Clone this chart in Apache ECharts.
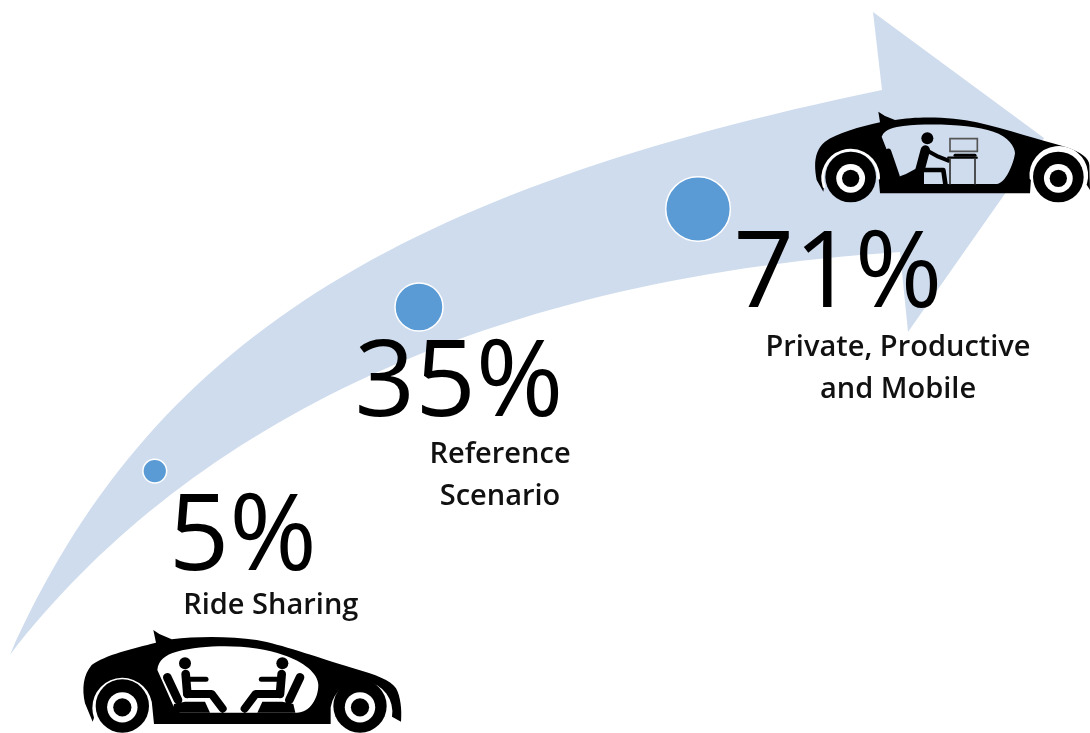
<!DOCTYPE html>
<html>
<head>
<meta charset="utf-8">
<style>html,body{margin:0;padding:0;background:#fff}#chart{width:1090px;height:733px}</style>
<script src="https://cdn.jsdelivr.net/npm/echarts@6/dist/echarts.min.js"></script>
</head>
<body>
<div id="chart"></div>
<script>
// Share of the scenario for each stage of vehicle use
const scenarios = ['Ride Sharing', 'Reference\nScenario', 'Private, Productive\nand Mobile'];
const shares = [5, 35, 71];
// Where each stage sits along the rising arrow, as a percentage of the plot
const stageAlong = [14.2, 38.44, 64.04];
const stageHeight = [35.74, 58.12, 71.49];

const pctOffsets = [[88, 69], [40, 79], [140, 68]];
const captionOffsets = [[116, 135], [81, 169], [200, 160]];

// Outline of the sweeping arrow: tail, upper curve, head, lower curve back to the tail
const arrowPath = 'M10,655 C150,340 400,190 882,90 L873,12 L1044,138 L908,332 L900,252 C470,280 180,435 10,655 Z';

const BLUE = '#5B9BD5', PALE = '#CFDCEE', INK = '#000';

const black = d => ({ type: 'path', shape: { pathData: d }, style: { fill: INK } });
const fillWith = (d, c) => ({ type: 'path', shape: { pathData: d }, style: { fill: c } });
const line = (d, w, c) => ({ type: 'path', shape: { pathData: d }, style: { fill: 'none', stroke: c || INK, lineWidth: w, lineCap: 'round', lineJoin: 'round' } });
const disc = (cx, cy, r, c) => ({ type: 'circle', shape: { cx, cy, r }, style: { fill: c } });
// The tyre sits slightly high in its arch, leaving only a thin gap above it
const wheel = (cx, cy, r) => [disc(cx, cy - 4, r + 4, INK), disc(cx, cy, r * 0.6, '#fff'), disc(cx, cy, r * 0.36, INK)];

// Car seen from the side with two passengers facing each other
function sharedCar() {
  const m = x => 982 - x;
  const rider = f => [
    disc(f(345), 130, 18, INK),
    line(`M${f(347)},162L${f(352)},222`, 26),
    line(`M${f(350)},178L${f(408)},178`, 15),
    line(`M${f(352)},222L${f(425)},222L${f(458)},266`, 24),
    line(`M${f(292)},172L${f(324)},240`, 26),
    black(`M${f(312)},252L${f(345)},245L${f(405)},245L${f(420)},278L${f(306)},278Z`)
  ];
  return [
    black('M68,305L45,250C35,205 40,165 65,135C105,105 190,85 258,68L250,30L268,42L305,58C380,48 480,48 560,60C640,75 720,105 850,145C920,165 960,180 978,205C992,230 996,270 993,305L966,290A90,90 0 1 0 782,262L782,312L252,312L247,262A90,90 0 1 0 72,293Z'),
    fillWith('M262,150C265,120 285,105 320,95C420,70 560,75 640,105C700,125 745,160 745,195C745,235 720,278 680,278L330,278L312,262Z', '#fff'),
    ...rider(x => x), ...rider(m),
    ...wheel(157, 262, 76), ...wheel(870, 262, 76)
  ];
}

// Car seen from the side with one passenger working at a desk
function officeCar() {
  const grey = '#555';
  return [
    black('M70,305L50,270C40,220 45,180 75,155C110,130 180,110 240,97L235,65L255,78L285,90C350,78 460,80 530,97C620,118 720,150 800,172C840,185 868,205 868,225L870,300L857,280A84,84 0 1 0 693,265L690,310L240,310L236,265A84,84 0 1 0 72,290Z'),
    line('M72,290A84,84 0 1 1 236,265', 8, '#fff'),
    line('M693,265A84,84 0 1 1 857,280', 8, '#fff'),
    fillWith('M245,140C255,115 285,112 310,108C400,98 520,105 580,125C625,140 645,170 645,190C640,225 615,282 590,282L300,282Z', PALE),
    line('M265,185L290,258', 18),
    black('M290,282L292,262L318,252L350,235L372,250L372,282Z'),
    disc(382, 145, 18, INK),
    line('M376,180L360,240', 28),
    line('M378,180L415,200L445,212', 12),
    line('M360,240L430,240L436,282', 14),
    fillWith('M372,252L410,252L410,282L372,282Z', PALE),
    line('M445,203L530,203', 7),
    line('M450,205L450,282M525,205L525,282', 5, '#333'),
    line('M465,196L525,196', 9),
    { type: 'path', shape: { pathData: 'M450,146L532,146L532,184L450,184Z' }, style: { fill: 'none', stroke: grey, lineWidth: 5 } },
    ...wheel(152, 265, 72), ...wheel(775, 265, 72)
  ];
}

const points = shares.map((v, i) => [stageAlong[i], stageHeight[i], v]);

const chart = echarts.init(document.getElementById('chart'));
chart.setOption({
  animation: false,
  backgroundColor: '#fff',
  grid: { left: 0, right: 0, top: 0, bottom: 0 },
  xAxis: { type: 'value', min: 0, max: 100, show: false },
  yAxis: { type: 'value', min: 0, max: 100, show: false },
  series: [
    {
      type: 'custom', coordinateSystem: 'none', silent: true, z: 1, data: [[0]],
      renderItem: () => ({ type: 'path', shape: { pathData: arrowPath }, style: { fill: PALE } })
    },
    {
      type: 'scatter', silent: true, z: 3,
      data: points,
      symbolSize: d => 9 + 6.6 * Math.sqrt(d[2]),
      itemStyle: { color: BLUE, borderColor: '#fff', borderWidth: 1.5, opacity: 1 },
      label: { show: false }
    },
    {
      // big percentage figures
      type: 'scatter', silent: true, z: 5, symbolSize: 0, itemStyle: { opacity: 1 },
      data: points.map((p, i) => ({
        value: p,
        label: {
          show: true, position: 'inside', offset: pctOffsets[i],
          formatter: shares[i] + '%', color: INK,
          fontFamily: 'Open Sans', fontSize: 106, fontWeight: 400
        }
      }))
    },
    {
      // scenario captions
      type: 'scatter', silent: true, z: 5, symbolSize: 0, itemStyle: { opacity: 1 },
      data: points.map((p, i) => ({
        value: p,
        label: {
          show: true, position: 'inside', offset: captionOffsets[i],
          formatter: scenarios[i], color: '#111', align: 'center', lineHeight: 42,
          fontFamily: 'Open Sans', fontSize: 29, fontWeight: 600
        }
      }))
    },
    {
      type: 'custom', coordinateSystem: 'none', silent: true, z: 2, data: [[0]],
      renderItem: () => ({
        type: 'group',
        children: [
          { type: 'group', x: 70, y: 620, scaleX: 1 / 3, scaleY: 1 / 3, children: sharedCar() },
          { type: 'group', x: 800, y: 90, scaleX: 1 / 3, scaleY: 1 / 3, children: officeCar() }
        ]
      })
    }
  ]
});
</script>
</body>
</html>
